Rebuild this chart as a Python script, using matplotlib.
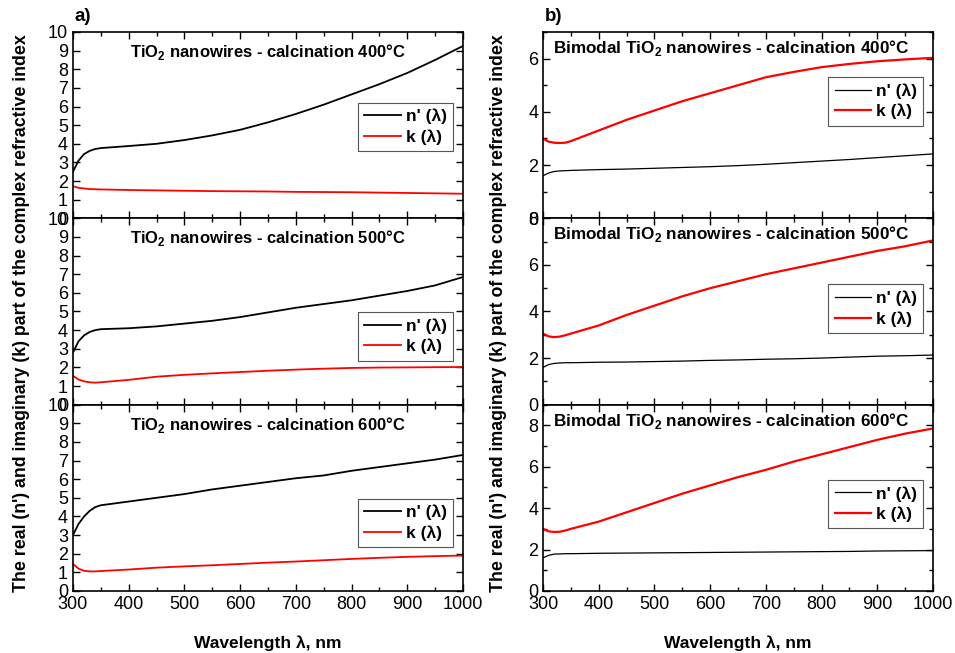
import matplotlib.pyplot as plt
from matplotlib.ticker import MultipleLocator

plt.rcParams['font.family'] = ['Liberation Sans', 'DejaVu Sans']
plt.rcParams['mathtext.fontset'] = 'custom'
plt.rcParams['mathtext.rm'] = 'Liberation Sans'
plt.rcParams['mathtext.bf'] = 'Liberation Sans:bold'

# wavelength grids (nm)
wl_a = [300, 310, 320, 330, 340, 350, 400, 450, 500, 550, 600, 650, 700, 750, 800, 850, 900, 950, 1000]

# a) TiO2 nanowires
n_400 = [2.5, 3.1, 3.45, 3.62, 3.72, 3.77, 3.88, 4.0, 4.2, 4.45, 4.75, 5.15, 5.6, 6.1, 6.65, 7.2, 7.8, 8.5, 9.25]
k_400 = [1.72, 1.64, 1.6, 1.57, 1.56, 1.55, 1.52, 1.5, 1.48, 1.46, 1.45, 1.44, 1.42, 1.41, 1.4, 1.38, 1.36, 1.34, 1.32]
n_500 = [2.8, 3.4, 3.72, 3.9, 4.0, 4.05, 4.1, 4.2, 4.35, 4.5, 4.7, 4.95, 5.2, 5.4, 5.6, 5.85, 6.1, 6.4, 6.85]
k_500 = [1.55, 1.35, 1.25, 1.2, 1.18, 1.2, 1.33, 1.5, 1.6, 1.68, 1.75, 1.82, 1.88, 1.93, 1.97, 1.99, 2.0, 2.01, 2.02]
n_600 = [3.0, 3.6, 4.0, 4.3, 4.5, 4.6, 4.8, 5.0, 5.2, 5.45, 5.65, 5.85, 6.05, 6.2, 6.45, 6.65, 6.85, 7.05, 7.3]
k_600 = [1.45, 1.2, 1.08, 1.05, 1.05, 1.07, 1.15, 1.25, 1.32, 1.38, 1.45, 1.52, 1.58, 1.65, 1.72, 1.78, 1.83, 1.87, 1.9]

# b) bimodal TiO2 nanowires
bn_400 = [1.6, 1.7, 1.76, 1.78, 1.79, 1.8, 1.83, 1.85, 1.88, 1.91, 1.94, 1.98, 2.03, 2.09, 2.15, 2.21, 2.28, 2.35, 2.42]
bk_400 = [3.0, 2.88, 2.84, 2.83, 2.84, 2.9, 3.3, 3.7, 4.05, 4.4, 4.7, 5.0, 5.3, 5.5, 5.68, 5.8, 5.9, 5.97, 6.03]
bn_500 = [1.6, 1.72, 1.77, 1.79, 1.8, 1.8, 1.82, 1.83, 1.85, 1.87, 1.9, 1.92, 1.95, 1.97, 2.0, 2.04, 2.08, 2.1, 2.13]
bk_500 = [3.05, 2.93, 2.9, 2.92, 2.98, 3.05, 3.4, 3.85, 4.25, 4.65, 5.0, 5.3, 5.6, 5.85, 6.1, 6.35, 6.6, 6.8, 7.05]
bn_600 = [1.6, 1.72, 1.78, 1.79, 1.8, 1.8, 1.82, 1.83, 1.84, 1.85, 1.86, 1.87, 1.88, 1.89, 1.9, 1.91, 1.93, 1.94, 1.95]
bk_600 = [3.0, 2.88, 2.85, 2.86, 2.92, 3.0, 3.35, 3.8, 4.25, 4.7, 5.1, 5.5, 5.85, 6.25, 6.6, 6.95, 7.3, 7.6, 7.85]

temps = ['400', '500', '600']
left_n = [n_400, n_500, n_600]
left_k = [k_400, k_500, k_600]
right_n = [bn_400, bn_500, bn_600]
right_k = [bk_400, bk_500, bk_600]
right_ylim = [7, 8, 9]

left_leg_y = [0.62, 0.497, 0.495]
right_leg_y = [0.758, 0.645, 0.596]

ylabel = "The real (n') and imaginary (k) part of the complex refractive index"
xlabel = "Wavelength \u03bb, nm"


def style_axis(ax):
    ax.set_xlim(300, 1000)
    ax.xaxis.set_major_locator(MultipleLocator(100))
    ax.xaxis.set_minor_locator(MultipleLocator(50))
    ax.tick_params(which='both', direction='in', top=True, right=True,
                   labelsize=13, width=1.0)
    ax.tick_params(which='major', length=5)
    ax.tick_params(which='minor', length=3)
    for sp in ax.spines.values():
        sp.set_linewidth(1.2)


def add_legend(ax, y):
    leg = ax.legend(loc='upper right', bbox_to_anchor=(0.975, y),
                    prop={'weight': 'bold', 'size': 12.5}, handlelength=2.1,
                    labelspacing=0.3, borderpad=0.35, handletextpad=0.3,
                    borderaxespad=0, fancybox=False, framealpha=1)
    leg.get_frame().set_edgecolor('#555555')
    leg.get_frame().set_linewidth(0.8)


fig = plt.figure(figsize=(9.55, 6.53), dpi=100)
h = (0.951 - 0.095) / 3

for i in range(3):
    bottom = 0.951 - (i + 1) * h

    # left column
    ax = fig.add_axes([0.0764, bottom, 0.4084, h])
    ax.plot(wl_a, left_n[i], color='black', lw=1.3, label="n' (\u03bb)")
    ax.plot(wl_a, left_k[i], color='red', lw=1.3, label='k (\u03bb)')
    style_axis(ax)
    ax.set_ylim(0, 10)
    ax.yaxis.set_major_locator(MultipleLocator(1))
    ax.text(0.5, 0.893, r'TiO$_\mathbf{2}$ nanowires - calcination ' + temps[i] + '\u00b0C',
            transform=ax.transAxes, ha='center', va='center',
            fontsize=12, fontweight='bold')
    add_legend(ax, left_leg_y[i])
    if i < 2:
        ax.tick_params(labelbottom=False)
    else:
        ax.set_xlabel(xlabel, fontsize=12.5, fontweight='bold', labelpad=16)

    # right column
    bx = fig.add_axes([0.5686, bottom, 0.4084, h])
    bx.plot(wl_a, right_n[i], color='black', lw=0.9, label="n' (\u03bb)")
    bx.plot(wl_a, right_k[i], color='red', lw=1.6, label='k (\u03bb)')
    style_axis(bx)
    bx.set_ylim(0, right_ylim[i])
    bx.yaxis.set_major_locator(MultipleLocator(2))
    bx.yaxis.set_minor_locator(MultipleLocator(1))
    bx.text(0.026, 0.914, r'Bimodal TiO$_\mathbf{2}$ nanowires - calcination ' + temps[i] + '\u00b0C',
            transform=bx.transAxes, ha='left', va='center',
            fontsize=12.3, fontweight='bold')
    add_legend(bx, right_leg_y[i])
    if i < 2:
        bx.tick_params(labelbottom=False)
    else:
        bx.set_xlabel(xlabel, fontsize=12.5, fontweight='bold', labelpad=16)

fig.text(0.023, 0.52, ylabel, rotation=90, ha='center', va='center',
         fontsize=12.8, fontweight='bold')
fig.text(0.522, 0.52, ylabel, rotation=90, ha='center', va='center',
         fontsize=12.8, fontweight='bold')
fig.text(0.078, 0.974, 'a)', fontsize=13.5, fontweight='bold', va='center')
fig.text(0.571, 0.974, 'b)', fontsize=13.5, fontweight='bold', va='center')

fig.savefig('out.png', dpi=100)
